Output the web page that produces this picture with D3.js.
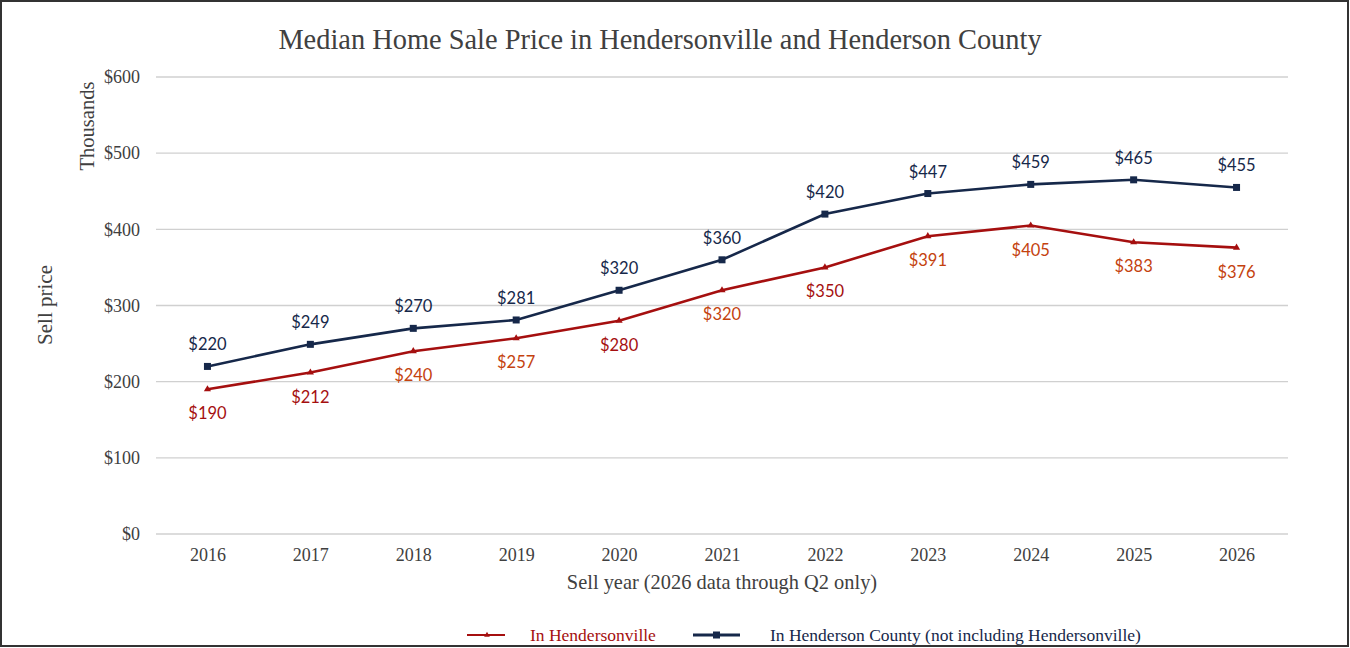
<!DOCTYPE html>
<html>
<head>
<meta charset="utf-8">
<script src="https://cdn.jsdelivr.net/npm/d3@7"></script>
<style>
  html, body { margin: 0; padding: 0; background: #fff; }
  svg { display: block; }
</style>
</head>
<body>
<div id="chart"></div>
<script>
const years = ['2016', '2017', '2018', '2019', '2020', '2021', '2022', '2023', '2024', '2025', '2026']
const hendersonville = [190, 212, 240, 257, 280, 320, 350, 391, 405, 383, 376]
const county = [220, 249, 270, 281, 320, 360, 420, 447, 459, 465, 455]
const yTicks = [0, 100, 200, 300, 400, 500, 600]
// label tint per point, the source chart mixes two reds
const hvLabelTint = ['dark', 'dark', 'light', 'light', 'dark', 'light', 'dark', 'light', 'light', 'light', 'light']

const W = 1350
const H = 648
const margin = { left: 156, right: 62, top: 77, bottom: 114 }
const width = W - margin.left - margin.right
const height = H - margin.top - margin.bottom

const serif = '"Liberation Serif", "Times New Roman", serif'
const sans = 'Lato, "Noto Sans", sans-serif'
const red = '#a50f0f'
const navy = '#16284a'
const tint = { dark: '#a50f0f', light: '#c4420e' }

const svg = d3.select('#chart').append('svg')
  .attr('width', W)
  .attr('height', H)

// outer frame
svg.append('rect')
  .attr('x', 1).attr('y', 1)
  .attr('width', W - 3).attr('height', H - 3)
  .attr('fill', '#fff')
  .attr('stroke', '#333')
  .attr('stroke-width', 2)

const g = svg.append('g')
  .attr('transform', `translate(${margin.left}, ${margin.top})`)

const x = d3.scalePoint()
  .domain(years)
  .range([0, width])
  .padding(0.5)

const y = d3.scaleLinear()
  .domain([0, 600])
  .range([height, 0])

// gridlines
g.append('g')
  .selectAll('line')
  .data(yTicks)
  .join('line')
  .attr('x1', 0)
  .attr('x2', width)
  .attr('y1', d => y(d))
  .attr('y2', d => y(d))
  .attr('stroke', '#d0d0d0')
  .attr('stroke-width', 1.3)

// y axis labels
const yAxis = g.append('g')
  .call(d3.axisLeft(y).tickValues(yTicks).tickFormat(d => '$' + d).tickSize(0).tickPadding(16))
yAxis.select('.domain').remove()
yAxis.selectAll('text')
  .attr('font-family', serif)
  .attr('font-size', '18px')
  .attr('fill', '#404040')

// x axis labels
const xAxis = g.append('g')
  .attr('transform', `translate(0, ${height})`)
  .call(d3.axisBottom(x).tickSize(0).tickPadding(14))
xAxis.select('.domain').remove()
xAxis.selectAll('text')
  .attr('font-family', serif)
  .attr('font-size', '18px')
  .attr('fill', '#404040')

// title
svg.append('text')
  .attr('x', 660)
  .attr('y', 49)
  .attr('text-anchor', 'middle')
  .attr('font-family', serif)
  .attr('font-size', '28.4px')
  .attr('fill', '#404040')
  .text('Median Home Sale Price in Hendersonville and Henderson County')

// axis titles
svg.append('text')
  .attr('transform', 'translate(94, 126) rotate(-90)')
  .attr('text-anchor', 'middle')
  .attr('font-family', serif)
  .attr('font-size', '20.5px')
  .attr('fill', '#404040')
  .text('Thousands')

svg.append('text')
  .attr('transform', 'translate(52, 305) rotate(-90)')
  .attr('text-anchor', 'middle')
  .attr('font-family', serif)
  .attr('font-size', '21px')
  .attr('fill', '#404040')
  .text('Sell price')

svg.append('text')
  .attr('x', 722)
  .attr('y', 589)
  .attr('text-anchor', 'middle')
  .attr('font-family', serif)
  .attr('font-size', '20.4px')
  .attr('fill', '#404040')
  .text('Sell year (2026 data through Q2 only)')

const line = d3.line()
  .x((d, i) => x(years[i]))
  .y(d => y(d))

const tri = d3.symbol().type(d3.symbolTriangle).size(22)

// Hendersonville
g.append('path')
  .datum(hendersonville)
  .attr('fill', 'none')
  .attr('stroke', red)
  .attr('stroke-width', 2.6)
  .attr('d', line)

g.selectAll('.hv-pt')
  .data(hendersonville)
  .join('path')
  .attr('class', 'hv-pt')
  .attr('transform', (d, i) => `translate(${x(years[i])}, ${y(d)})`)
  .attr('d', tri)
  .attr('fill', red)

g.selectAll('.hv-lbl')
  .data(hendersonville)
  .join('text')
  .attr('class', 'hv-lbl')
  .attr('x', (d, i) => x(years[i]))
  .attr('y', d => y(d) + 30)
  .attr('text-anchor', 'middle')
  .attr('font-family', sans)
  .attr('font-size', '16.5px')
  .attr('fill', (d, i) => tint[hvLabelTint[i]])
  .text(d => '$' + d)

// Henderson County
g.append('path')
  .datum(county)
  .attr('fill', 'none')
  .attr('stroke', navy)
  .attr('stroke-width', 2.6)
  .attr('d', line)

g.selectAll('.hc-pt')
  .data(county)
  .join('rect')
  .attr('class', 'hc-pt')
  .attr('x', (d, i) => x(years[i]) - 3.5)
  .attr('y', d => y(d) - 3.5)
  .attr('width', 7)
  .attr('height', 7)
  .attr('fill', navy)

g.selectAll('.hc-lbl')
  .data(county)
  .join('text')
  .attr('class', 'hc-lbl')
  .attr('x', (d, i) => x(years[i]))
  .attr('y', d => y(d) - 16)
  .attr('text-anchor', 'middle')
  .attr('font-family', sans)
  .attr('font-size', '16.5px')
  .attr('fill', navy)
  .text(d => '$' + d)

// legend
const legend = svg.append('g').attr('transform', 'translate(0, 635)')
const items = [
  { name: 'In Hendersonville', color: red, x: 467, len: 38, tx: 530, w: 1.8, mark: 'tri' },
  { name: 'In Henderson County (not including Hendersonville)', color: navy, x: 693, len: 47, tx: 770, w: 3.2, mark: 'sq' }
]
items.forEach(it => {
  const row = legend.append('g')
  row.append('line')
    .attr('x1', it.x).attr('x2', it.x + it.len)
    .attr('y1', 0).attr('y2', 0)
    .attr('stroke', it.color)
    .attr('stroke-width', it.w)
  if (it.mark === 'tri') {
    row.append('path')
      .attr('transform', `translate(${it.x + it.len / 2 + 1}, 0)`)
      .attr('d', d3.symbol().type(d3.symbolTriangle).size(14))
      .attr('fill', it.color)
  } else {
    row.append('rect')
      .attr('x', it.x + it.len / 2 - 3.5).attr('y', -3.5)
      .attr('width', 7).attr('height', 7)
      .attr('fill', it.color)
  }
  row.append('text')
    .attr('x', it.tx)
    .attr('y', 6)
    .attr('font-family', serif)
    .attr('font-size', '17.5px')
    .attr('fill', it.color)
    .text(it.name)
})
</script>
</body>
</html>
